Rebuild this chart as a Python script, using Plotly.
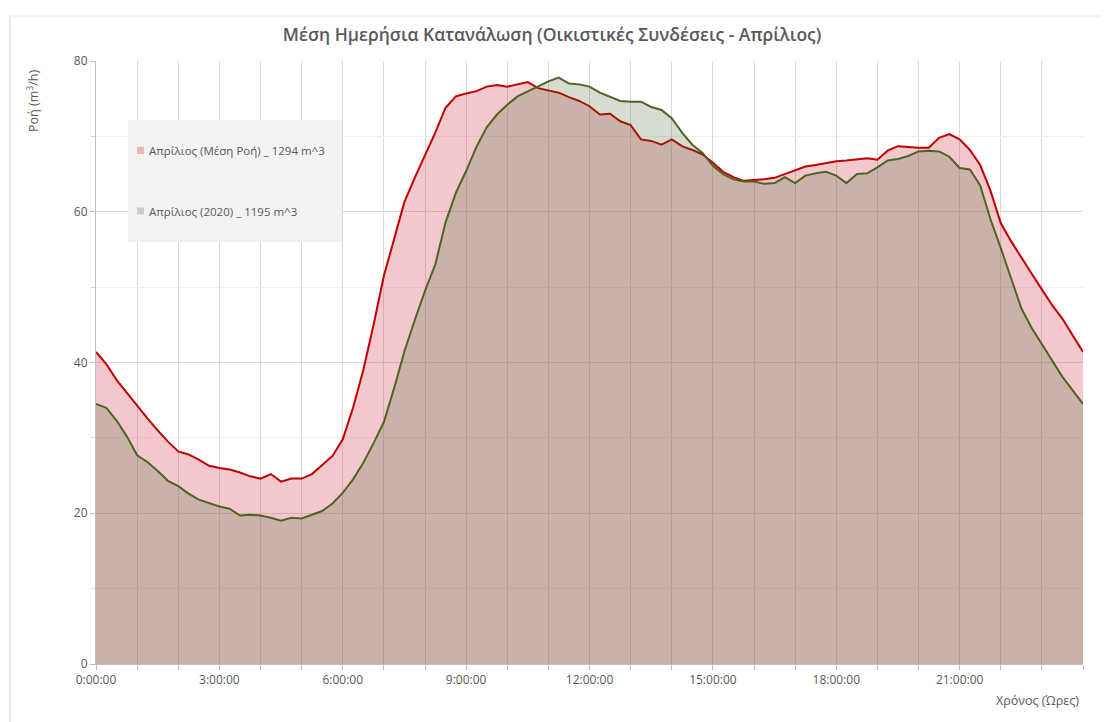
import plotly.graph_objects as go

# --- data (hours, 15-min steps) ---
hours = [i * 0.25 for i in range(97)]

avg_flow = [
    41.4, 39.8, 37.7, 36.0, 34.2, 32.6, 31.0, 29.5, 28.2, 27.8, 27.1, 26.3,
    26.0, 25.8, 25.4, 24.9, 24.6, 25.2, 24.2, 24.6, 24.6, 25.2, 26.4, 27.6,
    29.8, 34.0, 39.0, 45.0, 51.5, 56.5, 61.3, 64.5, 67.5, 70.5, 73.8, 75.3,
    75.7, 76.0, 76.6, 76.8, 76.6, 76.9, 77.2, 76.4, 76.1, 75.8, 75.2, 74.7,
    74.0, 72.9, 73.0, 72.0, 71.5, 69.6, 69.4, 68.9, 69.6, 68.7, 68.2, 67.6,
    66.5, 65.3, 64.6, 64.1, 64.2, 64.3, 64.5, 65.0, 65.5, 66.0, 66.2, 66.5,
    66.7, 66.8, 67.0, 67.1, 66.9, 68.1, 68.7, 68.6, 68.5, 68.5, 69.8, 70.3,
    69.6, 68.2, 66.2, 62.8, 58.5, 56.1, 53.9, 51.8, 49.7, 47.6, 45.8, 43.6,
    41.4,
]

flow_2020 = [
    34.5, 34.0, 32.3, 30.2, 27.7, 26.8, 25.6, 24.3, 23.6, 22.6, 21.8, 21.3,
    20.9, 20.6, 19.7, 19.8, 19.7, 19.4, 19.0, 19.4, 19.3, 19.8, 20.3, 21.3,
    22.7, 24.5, 26.7, 29.3, 32.1, 36.6, 41.5, 45.6, 49.5, 53.0, 58.6, 62.5,
    65.4, 68.6, 71.2, 72.9, 74.2, 75.3, 76.0, 76.6, 77.3, 77.8, 77.0, 76.9,
    76.6, 75.8, 75.2, 74.7, 74.6, 74.6, 73.9, 73.5, 72.4, 70.5, 68.9, 67.8,
    66.1, 65.0, 64.3, 64.0, 64.0, 63.7, 63.8, 64.6, 63.8, 64.8, 65.1, 65.3,
    64.8, 63.8, 65.0, 65.1, 65.9, 66.8, 67.0, 67.4, 68.0, 68.1, 68.0, 67.3,
    65.8, 65.6, 63.5, 59.0, 55.2, 51.2, 47.2, 44.6, 42.4, 40.2, 38.1, 36.3,
    34.5,
]

series_names = ["Απρίλιος (Μέση Ροή) _ 1294 m^3", "Απρίλιος (2020) _ 1195 m^3"]

tick_hours = [0, 3, 6, 9, 12, 15, 18, 21]
tick_labels = ["0:00:00", "3:00:00", "6:00:00", "9:00:00", "12:00:00", "15:00:00", "18:00:00", "21:00:00"]

title_text = "Μέση Ημερήσια Κατανάλωση (Οικιστικές Συνδέσεις - Απρίλιος)"
y_title = "Ροή (m<sup>3</sup>/h)"
x_title = "Χρόνος (Ώρες)"

# --- layout geometry (page pixels; the page body adds an 8px offset) ---
OFF = 8
W, H = 1108 - OFF, 722 - OFF
L, R, T, B = 96, 1083, 61, 664  # plot area in page pixels
PW, PH = R - L, B - T


def px(x):
    return (x - L) / PW


def py(y):
    return (B - y) / PH


FONT = "Open Sans"
GRAY = "#595959"

fig = go.Figure()
fig.add_trace(go.Scatter(
    x=hours, y=avg_flow, mode="lines", name=series_names[0],
    line=dict(color="#c00000", width=2),
    fill="tozeroy", fillcolor="rgba(212,72,85,0.30)",
))
fig.add_trace(go.Scatter(
    x=hours, y=flow_2020, mode="lines", name=series_names[1],
    line=dict(color="#4f6228", width=2),
    fill="tozeroy", fillcolor="rgba(64,100,45,0.22)",
))

fig.update_layout(
    width=W, height=H,
    margin=dict(l=L - OFF, r=W - (R - OFF), t=T - OFF, b=H - (B - OFF), pad=0),
    paper_bgcolor="white", plot_bgcolor="white",
    showlegend=False,
    font=dict(family=FONT, color=GRAY, size=12),
    title=dict(text=title_text, x=(552 - OFF) / W, xanchor="center", y=1 - (35 - OFF) / H, yanchor="middle",
               font=dict(family=FONT, size=17.5, color=GRAY, weight=600)),
)

fig.update_xaxes(
    range=[0, 24], tickmode="array", tickvals=tick_hours, ticktext=tick_labels,
    showgrid=True, gridcolor="#d9d9d9", gridwidth=1,
    showline=True, linecolor="#bfbfbf", linewidth=1,
    ticks="outside", ticklen=5, tickcolor="#bfbfbf",
    minor=dict(dtick=1, tick0=0, showgrid=True, gridcolor="#d9d9d9", ticks="outside", ticklen=5,
               tickcolor="#bfbfbf"),
    tickfont=dict(family=FONT, size=12, color=GRAY), zeroline=False,
)
fig.update_yaxes(
    range=[0, 80], tickmode="linear", tick0=0, dtick=20,
    showgrid=True, gridcolor="#d9d9d9", gridwidth=1,
    showline=True, linecolor="#bfbfbf", linewidth=1,
    ticks="outside", ticklen=5, tickcolor="#bfbfbf",
    minor=dict(dtick=10, showgrid=True, gridcolor="#efefef", ticks="outside", ticklen=4, tickcolor="#d9d9d9"),
    tickfont=dict(family=FONT, size=12, color=GRAY), zeroline=False,
)

shapes = []
# outer chart border (left and top)
shapes.append(dict(type="line", xref="paper", yref="paper", x0=px(10), x1=px(10), y0=py(16), y1=py(722),
                   line=dict(color="#d9d9d9", width=1), layer="above"))
shapes.append(dict(type="line", xref="paper", yref="paper", x0=px(10), x1=px(1108), y0=py(16), y1=py(16),
                   line=dict(color="#e6e6e6", width=1), layer="above"))
# legend box
shapes.append(dict(type="rect", xref="paper", yref="paper", x0=px(128), x1=px(342), y0=py(242), y1=py(120),
                   fillcolor="#f2f2f2", line=dict(width=0), layer="above"))
swatch_colors = ["#e6b9bb", "#c9ccc4"]
legend_y = [150.5, 211]
for col, yy in zip(swatch_colors, legend_y):
    shapes.append(dict(type="rect", xref="paper", yref="paper", x0=px(137), x1=px(144),
                       y0=py(yy + 3.5), y1=py(yy - 3.5), fillcolor=col, line=dict(width=0), layer="above"))
fig.update_layout(shapes=shapes)

ann = []
for name, yy in zip(series_names, legend_y):
    ann.append(dict(text=name, xref="paper", yref="paper", x=px(147), y=py(yy), xanchor="left", yanchor="middle",
                    showarrow=False, font=dict(family=FONT, size=11.5, color=GRAY)))
ann.append(dict(text=y_title, xref="paper", yref="paper", x=px(33), y=py(101), textangle=-90,
                xanchor="center", yanchor="middle", showarrow=False,
                font=dict(family=FONT, size=12.5, color=GRAY)))
ann.append(dict(text=x_title, xref="paper", yref="paper", x=px(1081), y=py(700), xanchor="right",
                yanchor="middle", showarrow=False, font=dict(family=FONT, size=12.5, color=GRAY)))
fig.update_layout(annotations=ann)

fig.write_html("out.html")
